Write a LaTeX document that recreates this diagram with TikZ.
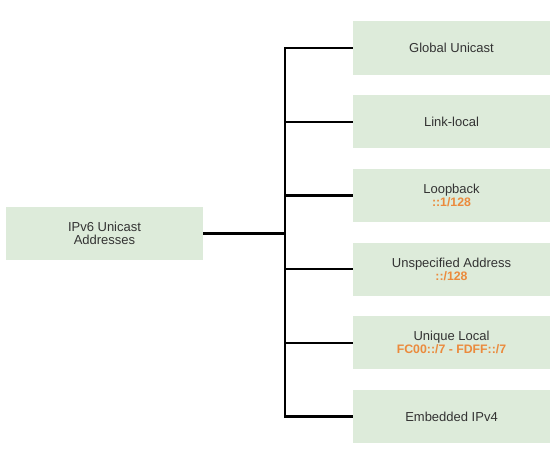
\documentclass[tikz,border=0pt]{standalone}
\usepackage{fontspec}
\setmainfont{Liberation Sans}
\definecolor{boxfill}{HTML}{DDEBDA}
\definecolor{txt}{HTML}{333333}
\definecolor{addr}{HTML}{EB8A3C}
\newcommand{\addrtxt}[1]{{\fontsize{12.3}{13}\selectfont\bfseries\color{addr}#1}}
\tikzset{
  box/.style={fill=boxfill, draw=none, minimum width=197pt, minimum height=53pt,
    inner sep=0pt, align=center, text=txt, font=\fontsize{13}{13}\selectfont},
  conn/.style={draw=black, line width=2.4pt}
}
\begin{document}
\begin{tikzpicture}[x=1pt,y=-1pt]
\useasboundingbox (0,0) rectangle (559,452);
\node[box] (root) at (104.5,233.5) {IPv6 Unicast\\Addresses};
\node[box] (b1) at (451.5,48) {Global Unicast};
\node[box] (b2) at (451.5,121.7) {Link-local};
\node[box] (b3) at (451.5,195.4) {Loopback\\\addrtxt{::1/128}};
\node[box] (b4) at (451.5,269.1) {Unspecified Address\\\addrtxt{::/128}};
\node[box] (b5) at (451.5,342.8) {Unique Local\\\addrtxt{FC00::/7 - FDFF::/7}};
\node[box] (b6) at (451.5,416.5) {Embedded IPv4};
\coordinate (spine) at (285,233.5);
\draw[conn] (root.east) -- (spine);
\draw[conn] (b1.west) -- (b1.west -| spine) -- (b6.west -| spine) -- (b6.west);
\draw[conn] (b2.west) -- (b2.west -| spine);
\draw[conn] (b3.west) -- (b3.west -| spine);
\draw[conn] (b4.west) -- (b4.west -| spine);
\draw[conn] (b5.west) -- (b5.west -| spine);
\end{tikzpicture}
\end{document}
